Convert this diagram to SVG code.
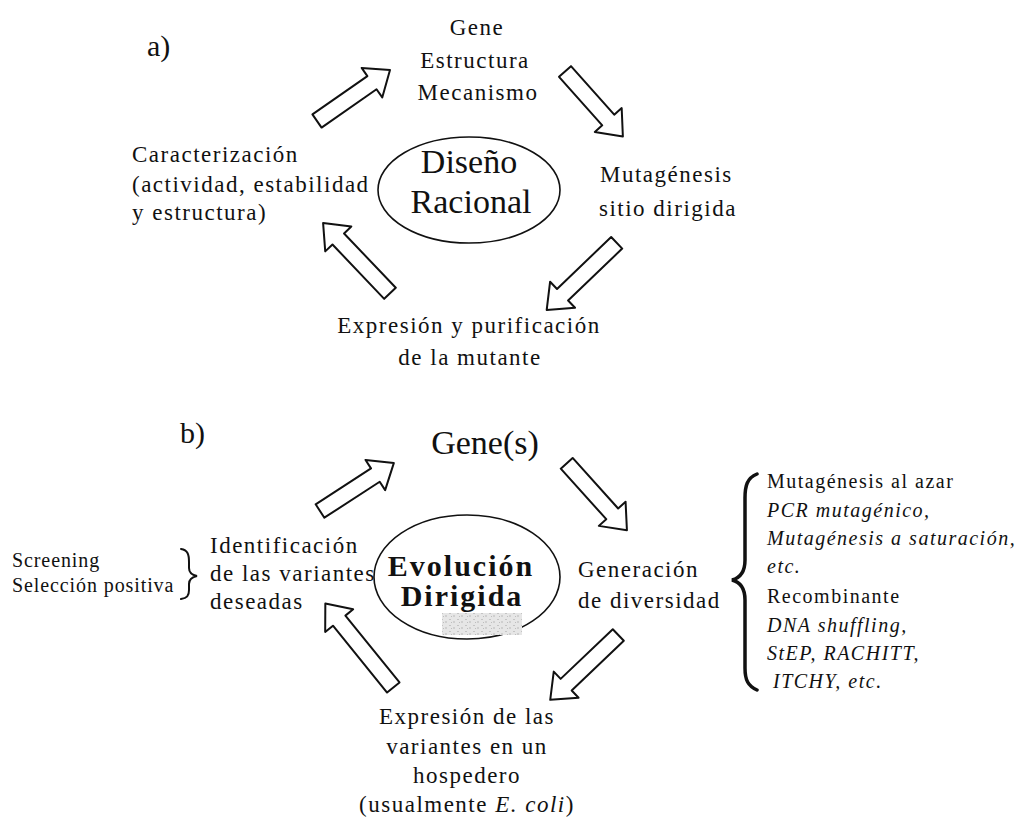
<svg xmlns="http://www.w3.org/2000/svg" width="1024" height="821" viewBox="0 0 1024 821">
<defs>
<style>
text{font-family:"Liberation Serif","Times New Roman",serif;fill:#111}
.lbl{font-size:23px;letter-spacing:1.5px}
.sm{font-size:20px;letter-spacing:0.9px}
.lst{font-size:20px;letter-spacing:1.5px}
.big{font-size:34px}
.tag{font-size:30px}
.bold{font-size:30px;font-weight:bold;letter-spacing:2px}
.it{font-style:italic}
.mid{text-anchor:middle}
.arr{fill:#fff;stroke:#111;stroke-width:2;stroke-linejoin:round}
.ell{fill:#fff;stroke:#111;stroke-width:1.6}
.brace{fill:none;stroke:#111;stroke-linecap:round}
</style>
<pattern id="noise" width="8" height="6" patternUnits="userSpaceOnUse">
<rect width="8" height="6" fill="#e6e6e6"/>
<rect x="1" y="1" width="2" height="1" fill="#c4c4c4"/>
<rect x="5" y="3" width="2" height="2" fill="#cfcfcf"/>
<rect x="3" y="4" width="1" height="1" fill="#bdbdbd"/>
</pattern>
</defs>
<rect width="1024" height="821" fill="#fff"/>

<g id="connectors">
<path class="arr" transform="translate(317,121) rotate(-34.9)" d="M0,-8H67V-18L89,0L67,18V8H0Z"/>
<path class="arr" transform="translate(565,71.5) rotate(48.3)" d="M0,-8H65V-18L87,0L65,18V8H0Z"/>
<path class="arr" transform="translate(616.7,242.8) rotate(136.2)" d="M0,-8H75V-18L97,0L75,18V8H0Z"/>
<path class="arr" transform="translate(390,293.3) rotate(-133.6)" d="M0,-8H75V-18L97,0L75,18V8H0Z"/>
<path class="arr" transform="translate(320,511) rotate(-33)" d="M0,-8H66V-18L88,0L66,18V8H0Z"/>
<path class="arr" transform="translate(566.7,463.3) rotate(48)" d="M0,-8H68V-18L90,0L68,18V8H0Z"/>
<path class="arr" transform="translate(618.3,635) rotate(136.4)" d="M0,-8H72V-18L94,0L72,18V8H0Z"/>
<path class="arr" transform="translate(393.3,687.5) rotate(-129)" d="M0,-8H86V-18L108,0L86,18V8H0Z"/>
</g>

<g id="label-a"><text class="tag" x="147" y="56">a)</text></g>

<g id="a-center">
<ellipse class="ell" cx="469" cy="190" rx="91" ry="53"/>
<text class="big mid" x="469" y="173">Diseño</text>
<text class="big mid" x="471" y="213">Racional</text>
</g>

<g id="a-gene">
<text class="lbl mid" x="477" y="35">Gene</text>
<text class="lbl mid" x="475" y="68">Estructura</text>
<text class="lbl mid" x="478" y="100">Mecanismo</text>
</g>

<g id="a-mutagenesis">
<text class="lbl" x="600" y="182">Mutagénesis</text>
<text class="lbl" x="599" y="216">sitio dirigida</text>
</g>

<g id="a-expresion">
<text class="lbl mid" x="469" y="333">Expresión y purificación</text>
<text class="lbl mid" x="470" y="365">de la mutante</text>
</g>

<g id="a-caracterizacion">
<text class="lbl" x="132" y="162">Caracterización</text>
<text class="lbl" x="132" y="192">(actividad, estabilidad</text>
<text class="lbl" x="132" y="220">y estructura)</text>
</g>

<g id="label-b"><text class="tag" x="180" y="443">b)</text></g>

<g id="b-center">
<ellipse class="ell" cx="467" cy="577" rx="93" ry="62"/>
<text class="bold mid" x="461" y="576">Evolución</text>
<text class="bold mid" x="462" y="606">Dirigida</text>
<rect x="442" y="613" width="80" height="22" fill="url(#noise)"/>
</g>

<g id="b-gene"><text class="big mid" x="485" y="454">Gene(s)</text></g>

<g id="b-generacion">
<text class="lbl" x="578" y="577">Generación</text>
<text class="lbl" x="578" y="608">de diversidad</text>
</g>

<g id="b-metodos">
<path class="brace" stroke-width="3.5" d="M757,474 C747,478 745,486 745,498 L745,560 C745,572 740,578 732,580 C740,582 745,588 745,600 L745,668 C745,680 748,686 757,690"/>
<text class="lst" x="767" y="488">Mutagénesis al azar</text>
<text class="lst it" x="767" y="517">PCR mutagénico,</text>
<text class="lst it" x="767" y="545">Mutagénesis a saturación,</text>
<text class="lst it" x="767" y="573">etc.</text>
<text class="lst" x="767" y="603">Recombinante</text>
<text class="lst it" x="767" y="632">DNA shuffling,</text>
<text class="lst it" x="767" y="660">StEP, RACHITT,</text>
<text class="lst it" x="773" y="688">ITCHY, etc.</text>
</g>

<g id="b-expresion">
<text class="lbl mid" x="467" y="724">Expresión de las</text>
<text class="lbl mid" x="467" y="754">variantes en un</text>
<text class="lbl mid" x="467" y="783">hospedero</text>
<text class="lbl mid" x="467" y="812">(usualmente <tspan class="it">E. coli</tspan>)</text>
</g>

<g id="b-identificacion">
<text class="lbl" x="210" y="553">Identificación</text>
<text class="lbl" x="210" y="581" letter-spacing="1.2">de las variantes</text>
<text class="lbl" x="210" y="609">deseadas</text>
</g>

<g id="b-seleccion">
<path class="brace" stroke-width="2" d="M181,549 C188,550 189,555 189,562 L189,568 C189,573 192,575 197,576 C192,577 189,579 189,584 L189,590 C189,596 187,598 181,599"/>
<text class="sm" x="12" y="567">Screening</text>
<text class="sm" x="12" y="592">Selección positiva</text>
</g>
</svg>
